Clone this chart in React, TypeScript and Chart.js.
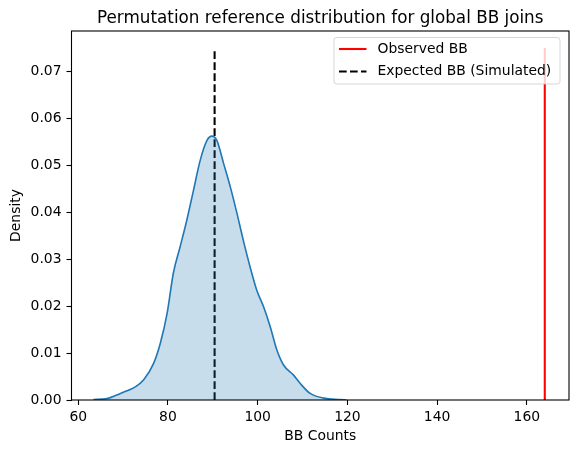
import React, { useEffect, useRef } from "react";
import { Chart, registerables } from "chart.js";

Chart.register(...registerables);

const kdeX = [63.4, 66.4, 69.4, 72.7, 74.6, 76.8, 78.3, 79.8, 81.2, 82.7, 84.2, 85.7, 87.2, 88.7, 89.8, 90.9, 92.4, 93.9, 95.4, 96.8, 98.3, 99.8, 101.3, 102.8, 104.3, 105.8, 108.0, 109.5, 111.7, 114.7, 118.4, 119.8];
const kdeY = [0.0001, 0.0003, 0.0014, 0.0028, 0.0043, 0.0078, 0.0121, 0.0184, 0.027, 0.0326, 0.0383, 0.0447, 0.0511, 0.0553, 0.0562, 0.0553, 0.0504, 0.0454, 0.0397, 0.034, 0.0284, 0.0234, 0.0199, 0.0156, 0.0106, 0.0074, 0.0053, 0.0035, 0.0014, 0.0004, 0.0001, 0.0];
const observedBB = 164;
const expectedBB = 90.4;
const vlineTop = 0.075;
const xTicks = [60, 80, 100, 120, 140, 160];
const yTicks = [0, 0.01, 0.02, 0.03, 0.04, 0.05, 0.06, 0.07];
const legendLabels = ["Observed BB", "Expected BB (Simulated)"];
const titleText = "Permutation reference distribution for global BB joins";

const FONT = "'DejaVu Sans', sans-serif";
const DASH = [7.7, 3.3];

const decorPlugin = {
  id: "decor",
  afterDraw(chart: any) {
    const { ctx, chartArea } = chart;
    const { left, right, top, bottom } = chartArea;
    ctx.save();
    // frame
    ctx.strokeStyle = "#000";
    ctx.lineWidth = 1.1;
    ctx.setLineDash([]);
    ctx.strokeRect(left, top, right - left, bottom - top);
    // title
    ctx.fillStyle = "#000";
    ctx.font = `16.8px ${FONT}`;
    ctx.textAlign = "center";
    ctx.textBaseline = "alphabetic";
    ctx.fillText(titleText, (left + right) / 2, top - 8.3);
    // legend
    const bx = 334, by = 37.5, bw = 226, bh = 46.5, r = 2.8;
    ctx.beginPath();
    ctx.moveTo(bx + r, by);
    ctx.lineTo(bx + bw - r, by);
    ctx.arcTo(bx + bw, by, bx + bw, by + r, r);
    ctx.lineTo(bx + bw, by + bh - r);
    ctx.arcTo(bx + bw, by + bh, bx + bw - r, by + bh, r);
    ctx.lineTo(bx + r, by + bh);
    ctx.arcTo(bx, by + bh, bx, by + bh - r, r);
    ctx.lineTo(bx, by + r);
    ctx.arcTo(bx, by, bx + r, by, r);
    ctx.closePath();
    ctx.fillStyle = "rgba(255,255,255,0.8)";
    ctx.fill();
    ctx.strokeStyle = "rgba(204,204,204,0.8)";
    ctx.lineWidth = 1;
    ctx.stroke();
    const rows = [
      { y: 49, color: "#ff0000", dash: [] as number[] },
      { y: 71.5, color: "#000000", dash: DASH },
    ];
    rows.forEach((row, i) => {
      ctx.beginPath();
      ctx.setLineDash(row.dash);
      ctx.strokeStyle = row.color;
      ctx.lineWidth = 2.08;
      ctx.moveTo(339, row.y);
      ctx.lineTo(366.5, row.y);
      ctx.stroke();
      ctx.setLineDash([]);
      ctx.fillStyle = "#000";
      ctx.font = `13.9px ${FONT}`;
      ctx.textAlign = "left";
      ctx.textBaseline = "middle";
      ctx.fillText(legendLabels[i], 377.5, row.y);
    });
    ctx.restore();
  },
};

export default function App() {
  const ref = useRef<HTMLCanvasElement>(null);
  useEffect(() => {
    document.body.style.margin = "0";
    const canvas = ref.current!;
    const kdeData = kdeX.map((x, i) => ({ x, y: kdeY[i] }));
    const chart = new Chart(canvas, {
      type: "line",
      data: {
        datasets: [
          {
            label: "kde",
            data: kdeData,
            borderColor: "#1f77b4",
            backgroundColor: "rgba(31,119,180,0.25)",
            borderWidth: 1.6,
            fill: "origin",
            pointRadius: 0,
            cubicInterpolationMode: "monotone",
          },
          {
            label: legendLabels[0],
            data: [
              { x: observedBB, y: 0 },
              { x: observedBB, y: vlineTop },
            ],
            borderColor: "#ff0000",
            borderWidth: 2.08,
            pointRadius: 0,
            fill: false,
          },
          {
            label: legendLabels[1],
            data: [
              { x: expectedBB, y: 0 },
              { x: expectedBB, y: vlineTop },
            ],
            borderColor: "#000000",
            borderWidth: 2.08,
            borderDash: DASH,
            pointRadius: 0,
            fill: false,
          },
        ],
      },
      options: {
        responsive: false,
        animation: false,
        layout: { padding: { top: 31, right: 7, left: 0, bottom: 0 } },
        plugins: {
          legend: { display: false },
          title: { display: false },
          tooltip: { enabled: false },
        },
        scales: {
          x: {
            type: "linear",
            min: 58.5,
            max: 169.4,
            afterFit: (s: any) => {
              s.height = 53;
            },
            afterBuildTicks: (s: any) => {
              s.ticks = xTicks.map((v) => ({ value: v }));
            },
            border: { display: false },
            grid: {
              drawOnChartArea: false,
              drawTicks: true,
              tickLength: 5,
              tickWidth: 1.1,
              tickColor: "#000",
            },
            ticks: {
              color: "#000",
              padding: 4,
              maxRotation: 0,
              font: { family: FONT, size: 13.9 },
              callback: (v: any) => String(v),
            },
            title: {
              display: true,
              text: "BB Counts",
              color: "#000",
              font: { family: FONT, size: 13.9 },
              padding: { top: 0, bottom: 8.6 },
            },
          },
          y: {
            type: "linear",
            min: 0,
            max: 0.0786,
            afterFit: (s: any) => {
              s.width = 71.5;
            },
            afterBuildTicks: (s: any) => {
              s.ticks = yTicks.map((v) => ({ value: v }));
            },
            border: { display: false },
            grid: {
              drawOnChartArea: false,
              drawTicks: true,
              tickLength: 5,
              tickWidth: 1.1,
              tickColor: "#000",
            },
            ticks: {
              color: "#000",
              padding: 5,
              font: { family: FONT, size: 13.9 },
              callback: (v: any) => Number(v).toFixed(2),
            },
            title: {
              display: true,
              text: "Density",
              color: "#000",
              font: { family: FONT, size: 13.9 },
              padding: { top: 8.4, bottom: 0 },
            },
          },
        },
      },
      plugins: [decorPlugin],
    } as any);
    return () => chart.destroy();
  }, []);
  return (
    <div style={{ width: 576, height: 453 }}>
      <canvas ref={ref} width={576} height={453} />
    </div>
  );
}
